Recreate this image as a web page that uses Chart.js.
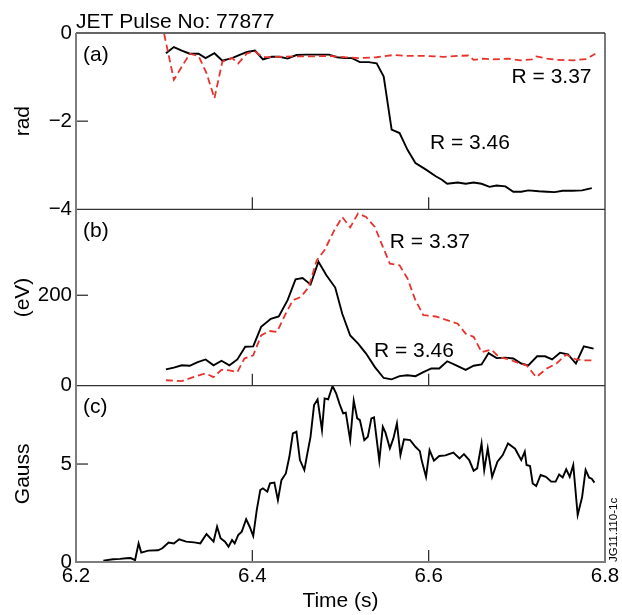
<!DOCTYPE html>
<html>
<head>
<meta charset="utf-8">
<style>
html,body{margin:0;padding:0;background:#fff;}
#wrap{width:622px;height:615px;position:relative;}
canvas{display:block;}
</style>
<script src="https://cdn.jsdelivr.net/npm/chart.js@4/dist/chart.umd.min.js"></script>
</head>
<body>
<div id="wrap"><canvas id="c" width="622" height="615"></canvas></div>
<script>
// ---------- text ----------
const pulseTitle = 'JET Pulse No: 77877';
const xTitle = 'Time (s)';
const yTitles = ['rad', '(eV)', 'Gauss'];
const panelLabels = ['(a)', '(b)', '(c)'];
const figureId = 'JG11.110-1c';
const seriesNames = ['R = 3.46', 'R = 3.37'];

// ---------- ticks ----------
const xTickValues = [6.2, 6.4, 6.6, 6.8];
const yTicksA = [0, -2, -4];
const yTicksB = [0, 200];
const yTicksC = [0, 5];

// ---------- panel (a): phase, rad ----------
const timeA346 = [6.302,6.311,6.320,6.329,6.339,6.347,6.357,6.366,6.377,6.385,6.394,6.403,6.412,6.422,6.431,6.440,6.450,6.460,6.469,6.478,6.487,6.496,6.505,6.513,6.522,6.532,6.541,6.549,6.558,6.567,6.576,6.585,6.597,6.608,6.615,6.621,6.633,6.642,6.651,6.660,6.669,6.677,6.687,6.696,6.705,6.713,6.725,6.734,6.743,6.752,6.763,6.774,6.785];
const radA346 = [-0.46,-0.32,-0.40,-0.47,-0.47,-0.57,-0.46,-0.63,-0.57,-0.50,-0.43,-0.40,-0.60,-0.54,-0.54,-0.58,-0.50,-0.49,-0.49,-0.49,-0.49,-0.55,-0.57,-0.57,-0.66,-0.66,-0.69,-0.99,-2.19,-2.27,-2.65,-2.95,-3.10,-3.25,-3.33,-3.42,-3.39,-3.42,-3.39,-3.42,-3.49,-3.46,-3.48,-3.60,-3.60,-3.57,-3.59,-3.60,-3.61,-3.58,-3.58,-3.57,-3.52];
const timeA337 = [6.300,6.311,6.329,6.339,6.348,6.357,6.366,6.377,6.384,6.394,6.403,6.412,6.431,6.450,6.469,6.487,6.505,6.522,6.541,6.560,6.578,6.597,6.617,6.633,6.645,6.651,6.662,6.673,6.690,6.704,6.717,6.722,6.734,6.745,6.764,6.779,6.789];
const radA337 = [-0.02,-1.06,-0.47,-0.52,-0.91,-1.48,-0.65,-0.57,-0.69,-0.46,-0.42,-0.55,-0.54,-0.53,-0.53,-0.52,-0.55,-0.57,-0.55,-0.50,-0.52,-0.52,-0.54,-0.52,-0.51,-0.61,-0.58,-0.60,-0.58,-0.62,-0.60,-0.53,-0.58,-0.61,-0.62,-0.59,-0.47];

// ---------- panel (b): eV ----------
const timeB346 = [6.302,6.311,6.320,6.329,6.338,6.347,6.356,6.365,6.374,6.383,6.392,6.401,6.410,6.421,6.430,6.440,6.449,6.457,6.466,6.475,6.484,6.494,6.502,6.511,6.520,6.529,6.539,6.549,6.558,6.567,6.576,6.585,6.594,6.603,6.612,6.621,6.630,6.642,6.651,6.660,6.668,6.677,6.687,6.696,6.705,6.713,6.723,6.732,6.740,6.749,6.758,6.767,6.776,6.787];
const eVB346 = [36,40,45,44,52,58,45,55,45,58,86,87,130,148,153,189,235,238,224,274,244,217,159,111,93,71,41,17,14,21,23,21,30,38,38,54,46,35,44,47,72,61,62,60,49,45,65,65,58,73,69,49,87,82];
const timeB337 = [6.302,6.320,6.333,6.347,6.356,6.365,6.374,6.383,6.391,6.401,6.410,6.419,6.428,6.437,6.446,6.455,6.464,6.473,6.482,6.493,6.502,6.511,6.520,6.529,6.539,6.548,6.556,6.567,6.576,6.585,6.594,6.608,6.619,6.633,6.642,6.651,6.660,6.671,6.680,6.691,6.702,6.711,6.722,6.734,6.745,6.756,6.767,6.776,6.787];
const eVB337 = [12,10,19,27,19,35,34,30,60,67,111,121,119,156,189,196,218,277,300,344,373,350,381,373,351,307,270,266,237,189,156,153,146,137,115,108,74,80,63,58,50,45,19,38,49,69,58,56,56];

// ---------- panel (c): Gauss ----------
const timeC = [6.231,6.242,6.250,6.257,6.262,6.267,6.271,6.274,6.282,6.293,6.298,6.305,6.311,6.317,6.325,6.334,6.341,6.348,6.356,6.360,6.364,6.369,6.373,6.377,6.380,6.384,6.388,6.393,6.397,6.401,6.405,6.409,6.412,6.417,6.420,6.425,6.429,6.433,6.438,6.442,6.446,6.450,6.454,6.459,6.462,6.466,6.470,6.474,6.479,6.482,6.486,6.491,6.495,6.499,6.503,6.506,6.511,6.515,6.519,6.522,6.527,6.531,6.535,6.538,6.544,6.548,6.551,6.556,6.560,6.564,6.568,6.572,6.579,6.585,6.590,6.592,6.597,6.601,6.606,6.612,6.619,6.628,6.635,6.640,6.646,6.651,6.655,6.660,6.663,6.667,6.672,6.678,6.684,6.690,6.698,6.705,6.709,6.711,6.715,6.718,6.722,6.727,6.733,6.739,6.744,6.748,6.752,6.756,6.760,6.764,6.769,6.774,6.778,6.782,6.785,6.788];
const gaussC = [0.07,0.14,0.16,0.19,0.20,0.10,0.95,0.48,0.58,0.60,0.70,0.99,0.95,1.16,1.04,1.00,0.95,1.43,1.04,1.80,1.21,1.04,0.78,1.12,0.95,1.38,1.55,2.18,1.80,1.33,2.65,3.67,3.76,3.59,4.01,4.05,3.16,4.18,4.52,5.37,6.56,6.65,5.20,4.69,5.44,6.39,8.01,8.30,6.73,8.35,8.30,8.98,8.61,8.06,7.59,7.62,6.22,8.23,7.33,7.24,6.22,6.39,7.33,7.38,5.17,6.90,6.60,5.80,6.31,7.08,5.46,6.26,6.22,5.88,5.66,5.20,4.35,5.71,5.17,5.41,5.44,5.58,5.29,5.51,5.20,4.66,4.78,6.05,4.69,5.80,4.35,5.12,5.46,6.05,5.78,5.20,5.63,4.95,4.90,4.01,3.88,4.44,4.35,4.10,4.10,4.47,4.32,4.73,4.35,4.95,2.40,3.30,4.70,4.30,4.25,4.05];

// ---------- label anchors (data units) ----------
const labelAnchors = [
  {axis: 'yA', text: seriesNames[1], t: 6.694, v: -1.00},
  {axis: 'yA', text: seriesNames[0], t: 6.6015, v: -2.50},
  {axis: 'yB', text: seriesNames[1], t: 6.556, v: 318},
  {axis: 'yB', text: seriesNames[0], t: 6.538, v: 77}
];

// ---------- build ----------
const FONT = "'Liberation Sans', Arial, Helvetica, sans-serif";
Chart.defaults.font.family = FONT;
Chart.defaults.color = '#000';

function pts(ts, vs) {
  const n = Math.min(ts.length, vs.length);
  const out = [];
  for (let i = 0; i < n; i++) out.push({x: ts[i], y: vs[i]});
  return out;
}
const BLACK = '#000000';
const RED = '#e8322c';
const solid = (data, axis) => ({data, yAxisID: axis, borderColor: BLACK, borderWidth: 1.9, pointRadius: 0, tension: 0, fill: false});
const dashed = (data, axis) => ({data, yAxisID: axis, borderColor: RED, borderWidth: 1.8, borderDash: [7, 4], pointRadius: 0, tension: 0, fill: false});

const tickFont = {size: 20.5, family: FONT};
const titleFont = {size: 21, family: FONT};
const fmtMinus = v => String(v).replace('-', '\u2212');

function yScale(min, max, ticksList, title, weight) {
  return {
    type: 'linear', position: 'left', stack: 'panels', stackWeight: 1, weight: weight,
    min, max,
    afterBuildTicks: s => { s.ticks = ticksList.map(v => ({value: v})); },
    afterFit: s => { s.width = 76; },
    grid: {display: false, drawTicks: false},
    border: {display: false},
    ticks: {font: tickFont, padding: 4, color: '#000', callback: v => fmtMinus(v), autoSkip: false},
    title: {display: true, text: title, font: titleFont, color: '#000', padding: {top: 10.5, bottom: 0}}
  };
}

const innerTicks = {yA: [-2], yB: [200], yC: [5]};
const xInner = [6.4, 6.6];

const decorPlugin = {
  id: 'decor',
  afterDatasetsDraw(chart) {
    const {ctx, chartArea: ca, scales} = chart;
    const xs = scales.x;
    const line = (x1, y1, x2, y2) => { ctx.beginPath(); ctx.moveTo(x1, y1); ctx.lineTo(x2, y2); ctx.stroke(); };
    ctx.save();
    // inner tick marks
    ctx.strokeStyle = '#222';
    ctx.lineWidth = 1.2;
    ['yA', 'yB', 'yC'].forEach(id => {
      const s = scales[id];
      innerTicks[id].forEach(v => { const py = s.getPixelForValue(v); line(ca.left, py, ca.left + 12, py); });
      xInner.forEach(t => { const px = xs.getPixelForValue(t); line(px, s.bottom, px, s.bottom - 12); });
    });
    // panel dividers + top/right frame
    ctx.strokeStyle = '#333';
    ctx.lineWidth = 1.3;
    line(ca.left, scales.yA.bottom, ca.right, scales.yA.bottom);
    line(ca.left, scales.yB.bottom, ca.right, scales.yB.bottom);
    line(ca.left, ca.top, ca.right, ca.top);
    line(ca.right, ca.top, ca.right, ca.bottom);
    // left / bottom axis lines
    ctx.strokeStyle = '#7d7d7d';
    ctx.lineWidth = 2;
    line(ca.left, ca.top, ca.left, ca.bottom + 1);
    line(ca.left - 1, ca.bottom, ca.right + 1, ca.bottom);

    // panel labels
    ctx.fillStyle = '#000';
    ctx.font = `21px ${FONT}`;
    ctx.textAlign = 'left';
    ctx.textBaseline = 'middle';
    ['yA', 'yB', 'yC'].forEach((id, i) => {
      ctx.fillText(panelLabels[i], ca.left + 7, scales[id].top + 22);
    });
    // series labels
    labelAnchors.forEach(a => {
      ctx.fillText(a.text, xs.getPixelForValue(a.t), scales[a.axis].getPixelForValue(a.v));
    });
    // figure id (rotated)
    ctx.font = `11.5px ${FONT}`;
    ctx.translate(ca.right + 8.5, ca.bottom);
    ctx.rotate(-Math.PI / 2);
    ctx.textAlign = 'left';
    ctx.textBaseline = 'middle';
    ctx.fillText(figureId, 0, 0);
    ctx.restore();
  }
};

new Chart(document.getElementById('c'), {
  type: 'line',
  data: {
    datasets: [
      dashed(pts(timeA337, radA337), 'yA'),
      solid(pts(timeA346, radA346), 'yA'),
      dashed(pts(timeB337, eVB337), 'yB'),
      solid(pts(timeB346, eVB346), 'yB'),
      solid(pts(timeC, gaussC), 'yC')
    ]
  },
  options: {
    responsive: false,
    animation: false,
    devicePixelRatio: 1,
    layout: {padding: {top: 0, right: 17, bottom: 0, left: 0}},
    plugins: {
      legend: {display: false},
      tooltip: {enabled: false},
      title: {
        display: true, text: pulseTitle, align: 'start', fullSize: false,
        font: {size: 21, family: FONT, weight: 'normal', lineHeight: 1},
        color: '#000', padding: {top: 12, bottom: 0}
      }
    },
    scales: {
      x: {
        type: 'linear', position: 'bottom', min: 6.2, max: 6.8,
        afterBuildTicks: s => { s.ticks = xTickValues.map(v => ({value: v})); },
        afterFit: s => { s.height = 53; },
        grid: {display: false, drawTicks: false},
        border: {display: false},
        ticks: {font: tickFont, padding: 2.5, color: '#000', maxRotation: 0, autoSkip: false, callback: v => Number(v).toFixed(1)},
        title: {display: true, text: xTitle, font: titleFont, color: '#000', padding: {top: 0, bottom: 1.5}}
      },
      yA: yScale(-4, 0, yTicksA, yTitles[0], 3),
      yB: yScale(0, 390, yTicksB, yTitles[1], 2),
      yC: yScale(0, 9, yTicksC, yTitles[2], 1)
    }
  },
  plugins: [decorPlugin]
});
</script>
</body>
</html>
